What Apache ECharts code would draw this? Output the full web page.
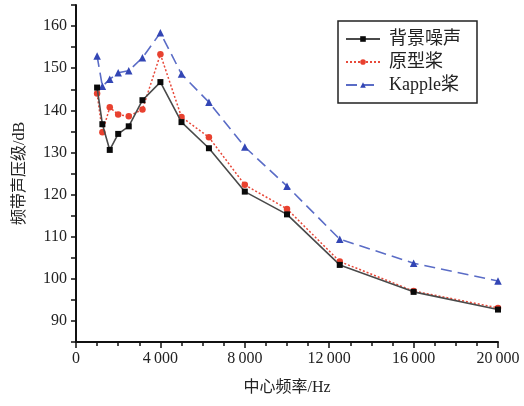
<!DOCTYPE html>
<html>
<head>
<meta charset="utf-8">
<style>
  html, body { margin: 0; padding: 0; background: #ffffff; }
  #chart { width: 524px; height: 406px; }
</style>
<script src="https://cdn.jsdelivr.net/npm/echarts@6/dist/echarts.min.js"></script>
</head>
<body>
<div id="chart"></div>
<script>
// 1/3-octave centre frequencies (Hz)
const frequencies = [1000, 1250, 1600, 2000, 2500, 3150, 4000, 5000, 6300, 8000, 10000, 12500, 16000, 20000];

// Band sound pressure level (dB) for each configuration
const backgroundNoise = [145.4, 136.7, 130.6, 134.4, 136.2, 142.4, 146.7, 137.2, 131.0, 120.7, 115.3, 103.3, 96.9, 92.7];
const prototypeProp   = [144.0, 134.8, 140.7, 139.0, 138.6, 140.2, 153.3, 138.4, 133.6, 122.3, 116.6, 104.1, 97.1, 93.1];
const kappleProp      = [152.9, 145.7, 147.4, 148.9, 149.4, 152.5, 158.4, 148.6, 141.9, 131.3, 122.0, 109.4, 103.7, 99.5];

const seriesNames = ['背景噪声', '原型桨', 'Kapple桨'];

const pairs = vals => frequencies.map((f, i) => [f, vals[i]]);

const serif = '"Liberation Serif", "DejaVu Serif", "Noto Sans CJK SC", serif';
const fmtThousands = v => {
  const s = String(v);
  return s.length > 3 ? s.slice(0, s.length - 3) + '\u2009' + s.slice(s.length - 3) : s;
};

const chart = echarts.init(document.getElementById('chart'));
chart.setOption({
  animation: false,
  backgroundColor: '#ffffff',
  grid: { left: 76, right: 26, top: 5, bottom: 64 },
  legend: {
    data: seriesNames,
    orient: 'vertical',
    left: 338,
    top: 21,
    padding: [9, 16, 9, 7],
    itemGap: 5,
    itemWidth: 34,
    itemHeight: 7,
    borderColor: '#222',
    borderWidth: 1.5,
    textStyle: { fontFamily: serif, fontSize: 18, color: '#222', padding: [0, 0, 0, 4] }
  },
  xAxis: {
    type: 'value',
    min: 0,
    max: 20000,
    interval: 4000,
    name: '中心频率/Hz',
    nameLocation: 'middle',
    nameGap: 38,
    nameTextStyle: { fontFamily: serif, fontSize: 16, color: '#222' },
    axisLine: { show: true, onZero: false, lineStyle: { color: '#111', width: 2 } },
    axisTick: { show: true, inside: false, length: 6, lineStyle: { color: '#111', width: 1.5 } },
    minorTick: { show: true, splitNumber: 4, length: 4, lineStyle: { color: '#111', width: 1.5 } },
    axisLabel: { fontFamily: serif, fontSize: 16, color: '#222', margin: 9, formatter: fmtThousands },
    splitLine: { show: false }
  },
  yAxis: {
    type: 'value',
    min: 85,
    max: 165,
    interval: 5,
    name: '频带声压级/dB',
    nameLocation: 'middle',
    nameGap: 48,
    nameTextStyle: { fontFamily: serif, fontSize: 16, color: '#222' },
    axisLine: { show: true, lineStyle: { color: '#111', width: 2 } },
    axisTick: { show: true, inside: false, length: 5, lineStyle: { color: '#111', width: 1.5 } },
    axisLabel: {
      fontFamily: serif, fontSize: 16, color: '#222', margin: 9,
      formatter: v => (v % 10 === 0 && v >= 90 && v <= 160) ? String(v) : ''
    },
    splitLine: { show: false }
  },
  series: [
    {
      name: seriesNames[0],
      type: 'line',
      data: pairs(backgroundNoise),
      symbol: 'rect',
      symbolSize: 6,
      lineStyle: { color: '#4a4a4a', width: 1.6, type: 'solid' },
      itemStyle: { color: '#0a0a0a' },
      z: 3
    },
    {
      name: seriesNames[1],
      type: 'line',
      data: pairs(prototypeProp),
      symbol: 'circle',
      symbolSize: 6.5,
      lineStyle: { color: '#e8493a', width: 1.5, type: [2, 2] },
      itemStyle: { color: '#e8412f' },
      z: 2
    },
    {
      name: seriesNames[2],
      type: 'line',
      data: pairs(kappleProp),
      symbol: 'triangle',
      symbolSize: 7.5,
      lineStyle: { color: '#5a6cc6', width: 1.6, type: [11, 6] },
      itemStyle: { color: '#3346b5' },
      z: 1
    }
  ]
});
</script>
</body>
</html>
